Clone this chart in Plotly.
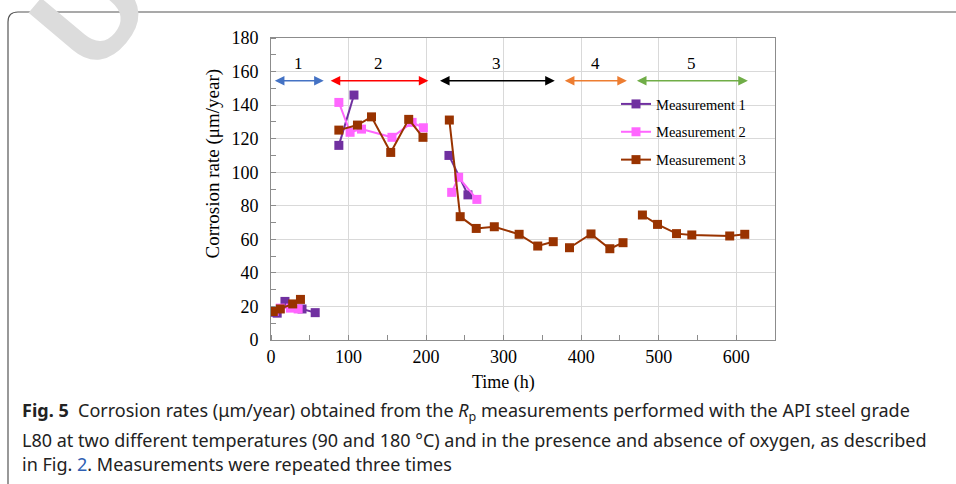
import plotly.graph_objects as go

# ---------------- data ----------------
m1_t = [2, 8, 18, 40, 57, None, 87.5, 107, None, 229.5, 254]
m1_v = [16.5, 16.0, 23.0, 18.5, 16.3, None, 116, 146, None, 110, 86.5]

m2_t = [4, 12, 25, 35, None, 87.5, 102, 116.7, 156, 182, 196.5, None, 233, 242, 265.5]
m2_v = [17, 19, 19, 18.5, None, 141.6, 123.8, 125.7, 120.8, 129.7, 126.5, None, 88, 97, 83.8]

m3_t = [3, 12, 28, 38, None,
        87.5, 111.5, 129.6, 154.4, 177.6, 196, None,
        230, 244, 264.7, 288, 320, 344, 364, None,
        385, 412.7, 437, 454, None,
        479, 498.5, 523, 542.7, 591.6, 611]
m3_v = [17, 18.5, 21.5, 24.2, None,
        125.1, 128.1, 133, 111.8, 131.5, 120.8, None,
        131.1, 73.5, 66.5, 67.5, 63, 56, 58.6, None,
        55, 63.2, 54.4, 58, None,
        74.5, 68.9, 63.4, 62.6, 62, 63]

series_names = ["Measurement 1", "Measurement 2", "Measurement 3"]
series_colors = ["#7030A0", "#FF66FF", "#993300"]

stage_labels = ["1", "2", "3", "4", "5"]
stage_start = [3, 75, 216, 377, 470]
stage_end = [68, 203, 366, 459, 615]
stage_colors = ["#4472C4", "#FF0000", "#000000", "#ED7D31", "#70AD47"]
stage_arrow_y = 154.5
stage_label_y = 165

x_ticks = [0, 100, 200, 300, 400, 500, 600]
y_ticks = [0, 20, 40, 60, 80, 100, 120, 140, 160, 180]

# ---------------- figure ----------------
W, H = 956, 484
L, R, T, B = 271, 775, 38, 340
pw, ph = R - L, B - T


def px(x):
    return (x - L) / pw


def py(y):
    return (B - y) / ph


fig = go.Figure()
for i, (t, v) in enumerate([(m1_t, m1_v), (m2_t, m2_v), (m3_t, m3_v)]):
    fig.add_trace(go.Scatter(
        x=t, y=v, mode="lines+markers", name=series_names[i],
        legendgroup=series_names[i],
        line=dict(color=series_colors[i], width=2),
        marker=dict(symbol="square", size=9, color=series_colors[i]),
        connectgaps=False,
    ))

serif = "Liberation Serif, Times New Roman, serif"
axis_common = dict(
    showline=True, linecolor="#8c8c8c", linewidth=1, mirror=True,
    showgrid=True, gridcolor="#d9d9d9", gridwidth=1,
    zeroline=False,
    ticks="", tickfont=dict(family=serif, size=18, color="#000"),
)
fig.update_xaxes(range=[0, 650], tickvals=x_ticks, **axis_common,
                 minor=dict(dtick=50, ticks="inside", ticklen=5, tickcolor="#8c8c8c", showgrid=False))
fig.update_yaxes(range=[0, 180], tickvals=y_ticks, **axis_common,
                 minor=dict(dtick=10, ticks="inside", ticklen=5, tickcolor="#8c8c8c", showgrid=False),
                 ticklabelstandoff=8)

ann = []
for lab, s, e, c in zip(stage_labels, stage_start, stage_end, stage_colors):
    ann.append(dict(x=e, y=stage_arrow_y, ax=s, ay=stage_arrow_y, xref="x", yref="y",
                    axref="x", ayref="y", text="", showarrow=True, arrowhead=2,
                    arrowside="end+start", arrowsize=1.2, arrowwidth=1.6, arrowcolor=c,
                    standoff=0, startstandoff=0))
    ann.append(dict(x=(s + e) / 2, y=stage_label_y, xref="x", yref="y", text=lab,
                    xanchor="center", yanchor="middle",
                    showarrow=False, font=dict(family=serif, size=17, color="#000")))

# axis titles
ann.append(dict(x=px(503), y=py(382), xref="paper", yref="paper", text="Time (h)",
                xanchor="center", yanchor="middle",
                showarrow=False, font=dict(family=serif, size=18, color="#000")))
ann.append(dict(x=px(212), y=py(163.5), xref="paper", yref="paper",
                text="Corrosion rate (μm/year)", textangle=-90,
                xanchor="center", yanchor="middle",
                showarrow=False, font=dict(family=serif, size=19, color="#000")))

# caption
cap_font = dict(family="Noto Sans, sans-serif", size=18, color="#222")
cap_lines = [
    "<b>Fig. 5</b>  Corrosion rates (μm/year) obtained from the <i>R</i><sub>p</sub> measurements performed with the API steel grade",
    "L80 at two different temperatures (90 and 180 °C) and in the presence and absence of oxygen, as described",
    "in Fig. <span style='color:#2f5fb3'>2</span>. Measurements were repeated three times",
]
for line, yy in zip(cap_lines, [412, 440, 464]):
    ann.append(dict(x=px(20), y=py(yy), xref="paper", yref="paper", text=line,
                    xanchor="left", yanchor="middle", showarrow=False, font=cap_font))

# watermark
ann.append(dict(x=px(90), y=py(11), xref="paper", yref="paper", text="<b>U</b>",
                textangle=-50, showarrow=False, xanchor="center", yanchor="middle",
                font=dict(family="Liberation Sans, Arial, sans-serif", size=135, color="#dcdcdc")))

fig.update_layout(annotations=ann)

# frame (rounded)
r = 10
x0, y0 = 8, 12
x1, y1 = 970, 500
path = (f"M {px(x0)},{py(y1)} L {px(x0)},{py(y0 + r)} "
        f"Q {px(x0)},{py(y0)} {px(x0 + r)},{py(y0)} L {px(x1)},{py(y0)}")
fig.add_shape(type="path", path=path, xref="paper", yref="paper",
              line=dict(color="#555", width=1.2), layer="below")

fig.update_layout(
    width=W, height=H,
    margin=dict(l=L, r=W - R, t=T, b=H - B),
    paper_bgcolor="white", plot_bgcolor="white",
    showlegend=True,
    legend=dict(x=px(616), y=py(88), xanchor="left", yanchor="top",
                font=dict(family=serif, size=14.5, color="#000"),
                bgcolor="rgba(255,255,255,0)", tracegroupgap=6, itemwidth=30),
)

fig.write_html("out.html", config={"displayModeBar": False},
               post_script="document.body.style.margin='0';document.body.style.padding='0';")
